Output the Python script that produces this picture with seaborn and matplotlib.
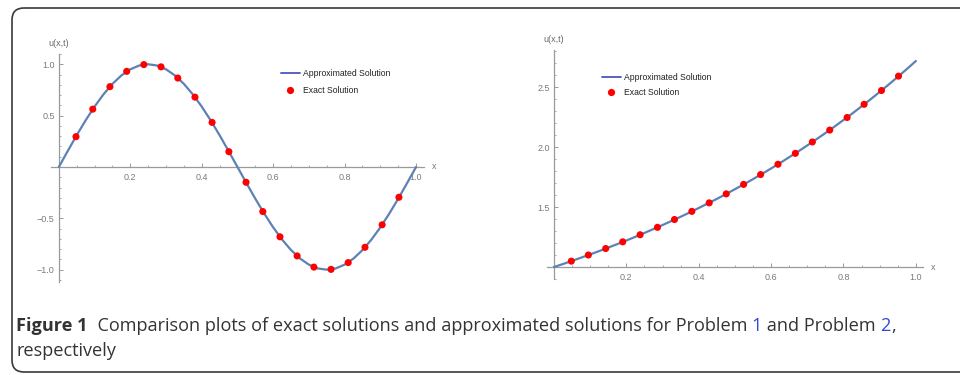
import matplotlib
matplotlib.use("Agg")
import matplotlib.pyplot as plt
import numpy as np
import pandas as pd
import seaborn as sns
from matplotlib.lines import Line2D
from matplotlib.patches import FancyBboxPatch
from matplotlib.ticker import FixedLocator, MultipleLocator

# ---- data -------------------------------------------------------------
# approximated solution curves (sampled every 0.025)
curve_x = [0.000, 0.025, 0.050, 0.075, 0.100, 0.125, 0.150, 0.175, 0.200, 0.225,
           0.250, 0.275, 0.300, 0.325, 0.350, 0.375, 0.400, 0.425, 0.450, 0.475,
           0.500, 0.525, 0.550, 0.575, 0.600, 0.625, 0.650, 0.675, 0.700, 0.725,
           0.750, 0.775, 0.800, 0.825, 0.850, 0.875, 0.900, 0.925, 0.950, 0.975,
           1.000]
approx_p1 = [0.000, 0.156, 0.309, 0.454, 0.588, 0.707, 0.809, 0.891, 0.951, 0.988,
             1.000, 0.988, 0.951, 0.891, 0.809, 0.707, 0.588, 0.454, 0.309, 0.156,
             0.000, -0.156, -0.309, -0.454, -0.588, -0.707, -0.809, -0.891, -0.951, -0.988,
             -1.000, -0.988, -0.951, -0.891, -0.809, -0.707, -0.588, -0.454, -0.309, -0.156,
             0.000]
approx_p2 = [1.000, 1.025, 1.051, 1.078, 1.105, 1.133, 1.162, 1.191, 1.221, 1.252,
             1.284, 1.317, 1.350, 1.384, 1.419, 1.455, 1.492, 1.530, 1.568, 1.608,
             1.649, 1.690, 1.733, 1.777, 1.822, 1.868, 1.916, 1.964, 2.014, 2.065,
             2.117, 2.171, 2.226, 2.282, 2.340, 2.399, 2.460, 2.522, 2.586, 2.651,
             2.718]

# exact solution sample points
exact_x = [0.048, 0.095, 0.143, 0.190, 0.238, 0.286, 0.333, 0.381, 0.429, 0.476,
           0.524, 0.571, 0.619, 0.667, 0.714, 0.762, 0.810, 0.857, 0.905, 0.952]
exact_p1 = [0.295, 0.563, 0.782, 0.931, 0.997, 0.975, 0.866, 0.680, 0.434, 0.149,
            -0.149, -0.434, -0.680, -0.866, -0.975, -0.997, -0.931, -0.782, -0.563, -0.295]
exact_p2 = [1.049, 1.100, 1.154, 1.210, 1.269, 1.331, 1.396, 1.464, 1.535, 1.610,
            1.689, 1.771, 1.857, 1.948, 2.043, 2.142, 2.247, 2.357, 2.472, 2.592]

x_ticks = [0.2, 0.4, 0.6, 0.8, 1.0]
x_ticklabels = ["0.2", "0.4", "0.6", "0.8", "1.0"]
y_ticks_p1 = [-1.0, -0.5, 0.5, 1.0]
y_ticklabels_p1 = ["\u22121.0", "\u22120.5", "0.5", "1.0"]
y_ticks_p2 = [1.5, 2.0, 2.5]
y_ticklabels_p2 = ["1.5", "2.0", "2.5"]

legend_labels = ["Approximated Solution", "Exact Solution"]

# ---- style ------------------------------------------------------------
sns.set_theme(style="white")
plt.rcParams["font.family"] = ["Liberation Sans", "DejaVu Sans"]

LINE_C = "#5e81b5"
DOT_C = "#ff0000"
AXIS_C = "#9a9a9a"
TICKLAB_C = "#7a7a7a"

fig = plt.figure(figsize=(9.6, 3.75), dpi=100)

# frame around the whole figure panel
bg = fig.add_axes([0, 0, 1, 1], zorder=-5)
bg.set_xlim(0, 960)
bg.set_ylim(375, 0)
bg.axis("off")
bg.add_patch(FancyBboxPatch((12, 8), 990, 364,
                            boxstyle="round,pad=0,rounding_size=12",
                            fill=False, ec="#3a3a3a", lw=1.2))

ax1 = fig.add_axes([0.0531, 0.248, 0.3885, 0.608])
ax2 = fig.add_axes([0.5695, 0.256, 0.3917, 0.6107])

df1_line = pd.DataFrame({"x": curve_x, "u": approx_p1})
df1_pts = pd.DataFrame({"x": exact_x, "u": exact_p1})
df2_line = pd.DataFrame({"x": curve_x, "u": approx_p2})
df2_pts = pd.DataFrame({"x": exact_x, "u": exact_p2})


def style_axes(ax, xlim, ylim, y_origin, yt, ytl):
    ax.set_xlim(*xlim)
    ax.set_ylim(*ylim)
    ax.set_facecolor("none")
    for s in ("top", "right"):
        ax.spines[s].set_visible(False)
    ax.spines["left"].set_position(("data", 0.0))
    ax.spines["bottom"].set_position(("data", y_origin))
    for s in ("left", "bottom"):
        ax.spines[s].set_color(AXIS_C)
        ax.spines[s].set_linewidth(0.9)
    ax.xaxis.set_major_locator(FixedLocator(x_ticks))
    ax.set_xticklabels(x_ticklabels)
    ax.yaxis.set_major_locator(FixedLocator(yt))
    ax.set_yticklabels(ytl)
    ax.xaxis.set_minor_locator(MultipleLocator(0.05))
    ax.yaxis.set_minor_locator(MultipleLocator(0.1))
    ax.tick_params(which="major", direction="in", length=3.0, width=0.7,
                   color=AXIS_C, labelsize=6.5, labelcolor=TICKLAB_C)
    ax.tick_params(which="minor", direction="in", length=1.6, width=0.6,
                   color=AXIS_C)
    ax.tick_params(axis="x", which="both", bottom=True, pad=4)
    ax.tick_params(axis="y", which="both", left=True, pad=3)
    ax.set_xlabel("")
    ax.set_ylabel("")
    ax.grid(False)
    ax.annotate("u(x,t)", xy=(0, 1), xycoords=("data", "axes fraction"),
                xytext=(0, 4.5), textcoords="offset points",
                ha="center", va="bottom", fontsize=6.5, color="#666666")
    ax.annotate("x", xy=(1, y_origin), xycoords=("axes fraction", "data"),
                xytext=(6, 0), textcoords="offset points",
                ha="left", va="center", fontsize=6.5, color="#777777")


for ax, dl, dp in ((ax1, df1_line, df1_pts), (ax2, df2_line, df2_pts)):
    sns.lineplot(data=dl, x="x", y="u", ax=ax, color=LINE_C, lw=1.6,
                 zorder=3, legend=False)
    sns.scatterplot(data=dp, x="x", y="u", ax=ax, color=DOT_C, s=26,
                    edgecolor="none", zorder=4, legend=False)

style_axes(ax1, (-0.022, 1.022), (-1.12, 1.10), 0.0, y_ticks_p1, y_ticklabels_p1)
style_axes(ax2, (-0.02, 1.019), (0.90, 2.81), 1.0, y_ticks_p2, y_ticklabels_p2)

handles = [Line2D([], [], color="#5a62c4", lw=1.4),
           Line2D([], [], ls="", marker="o", color=DOT_C, ms=5.2, mec="none")]
for ax, anchor, spacing in ((ax1, (281 / 960, 1 - 69 / 375), 0.95),
                            (ax2, (602 / 960, 1 - 73 / 375), 0.75)):
    leg = ax.legend(handles, legend_labels, loc="upper left",
                    bbox_to_anchor=anchor, bbox_transform=fig.transFigure,
                    frameon=False, fontsize=6.2, handlelength=2.2,
                    handletextpad=0.3, labelspacing=spacing, borderpad=0,
                    borderaxespad=0)
    for t in leg.get_texts():
        t.set_color("#222222")

# ---- caption ----------------------------------------------------------
CAP_FS = 13.1
CAP_C = "#333333"
LINK_C = "#3346d8"
cap_font = ["Open Sans", "DejaVu Sans"]
pieces = [("Figure 1", "bold", CAP_C),
          ("  Comparison plots of exact solutions and approximated solutions for Problem ", "normal", CAP_C),
          ("1", "normal", LINK_C),
          (" and Problem ", "normal", CAP_C),
          ("2", "normal", LINK_C),
          (",", "normal", CAP_C)]
prev = fig.text(16 / 960, 1 - 331 / 375, pieces[0][0], fontsize=CAP_FS,
                fontweight=pieces[0][1], color=pieces[0][2], family=cap_font,
                ha="left", va="baseline")
for txt, wt, col in pieces[1:]:
    prev = plt.annotate(txt, xy=(1, 0), xycoords=prev, ha="left", va="bottom",
                        fontsize=CAP_FS, fontweight=wt, color=col,
                        family=cap_font, annotation_clip=False)
fig.text(16 / 960, 1 - 356 / 375, "respectively", fontsize=CAP_FS,
         color=CAP_C, family=cap_font, ha="left", va="baseline")

fig.savefig("out.png", dpi=100)
